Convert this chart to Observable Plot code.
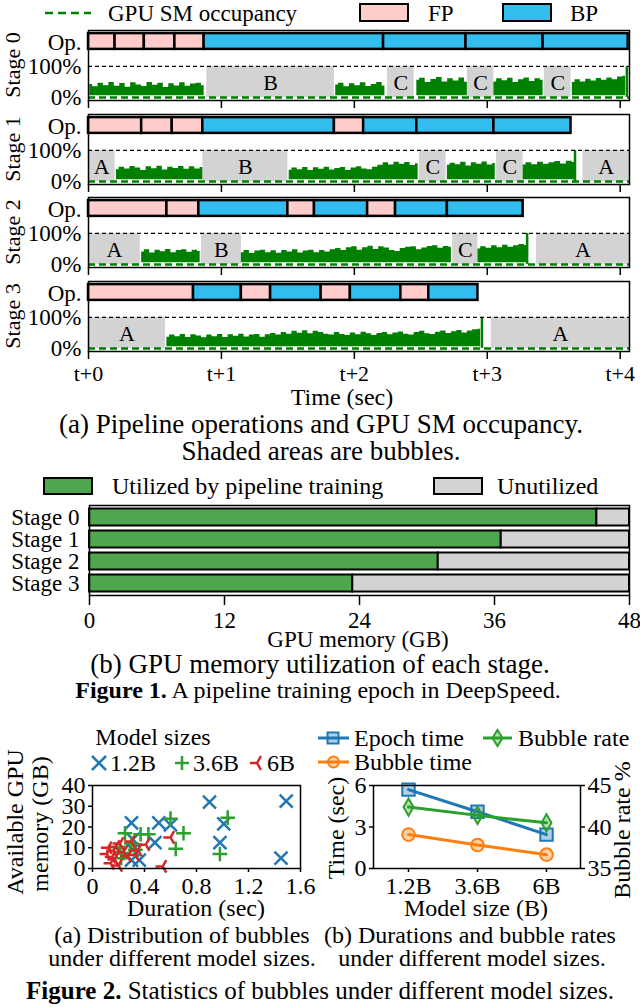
<!DOCTYPE html>
<html><head><meta charset="utf-8">
<script src="https://cdn.jsdelivr.net/npm/d3@7"></script>
<script src="https://cdn.jsdelivr.net/npm/@observablehq/plot@0.6"></script>
<style>
html,body{margin:0;padding:0;background:#fff;}
#page{position:relative;width:640px;height:1007px;overflow:hidden;font-family:"Liberation Serif","Times New Roman",serif;color:#000;}
.abs{position:absolute;}
.tx{position:absolute;white-space:nowrap;line-height:1;}
.sw{position:absolute;box-sizing:border-box;border:2px solid #000;}
</style></head>
<body><div id="page"></div>
<script>
// ================= DATA =================
// ---- Figure 1(a): pipeline operations & SM occupancy ----
const stageNames = ["Stage 0", "Stage 1", "Stage 2", "Stage 3"];
const timeTicks = [0, 1, 2, 3, 4];
const timeMax = 4.07;
const opBounds = [
  [0, 0.20, 0.42, 0.65, 0.87, 2.22, 2.84, 3.42, 4.06],
  [0, 0.40, 0.63, 0.86, 1.85, 2.07, 2.47, 3.05, 3.63],
  [0, 0.59, 0.83, 1.50, 1.70, 2.10, 2.31, 2.70, 3.27],
  [0, 0.79, 1.15, 1.37, 1.75, 1.97, 2.35, 2.56, 2.93]
];
const opTypes = [
  ["FP", "FP", "FP", "FP", "BP", "BP", "BP", "BP"],
  ["FP", "FP", "FP", "BP", "FP", "BP", "BP", "BP"],
  ["FP", "FP", "BP", "FP", "BP", "FP", "BP", "BP"],
  ["FP", "BP", "FP", "BP", "FP", "BP", "FP", "BP"]
];
const bubbleLabels = [["B", "C", "C", "C"], ["A", "B", "C", "C", "A"], ["A", "B", "C", "A"], ["A", "A"]];
const bubbleStart = [[0.89, 2.25, 2.85, 3.43], [0, 0.86, 2.49, 3.07, 3.72], [0, 0.85, 2.74, 3.37], [0, 3.03]];
const bubbleEnd = [[1.85, 2.45, 3.05, 3.63], [0.20, 1.50, 2.69, 3.27, 4.07], [0.39, 1.15, 2.93, 4.07], [0.58, 4.07]];
const occSegStart = [[0.01, 1.86, 2.47, 3.05, 3.64], [0.21, 1.51, 2.70, 3.27], [0.40, 1.15, 2.93], [0.59]];
const occSegEnd = [[0.87, 2.23, 2.85, 3.42, 4.04], [0.86, 2.48, 3.06, 3.66], [0.84, 2.73, 3.30], [2.95]];
const occTop = [
  [
    [42, 34, 46, 38, 48, 36, 45, 33, 47, 40, 35, 48, 39, 46, 32, 44, 37, 47, 36, 43, 46, 38],
    [40, 46, 34, 44, 38, 47, 35, 42, 48, 37],
    [55, 62, 48, 58, 64, 50, 60, 53, 63, 49],
    [50, 60, 54, 62, 48, 57, 63, 51, 60, 55],
    [48, 57, 50, 59, 53, 61, 55, 63, 57, 66, 68]
  ],
  [
    [38, 46, 40, 48, 43, 35, 47, 41, 49, 37, 46, 42, 48, 39, 47, 40, 45],
    [36, 43, 38, 45, 35, 44, 39, 46, 37, 42, 45, 35, 43, 47, 40, 38, 46, 52, 60, 53, 62, 55, 61, 51, 57],
    [52, 59, 54, 62, 50, 60, 55, 63, 53, 58],
    [53, 60, 54, 62, 55, 60, 64, 56, 65, 61]
  ],
  [
    [40, 47, 37, 46, 41, 48, 38, 45, 47, 39, 46, 42],
    [38, 45, 35, 43, 46, 38, 44, 36, 45, 40, 47, 37, 43, 46, 38, 45, 40, 47, 51, 45, 54, 57, 46, 54, 59, 48, 57, 53, 45, 42, 51, 55, 57, 47, 53, 58, 60, 52, 58, 55],
    [50, 57, 52, 60, 54, 62, 55, 60, 64, 61]
  ],
  [
    [36, 43, 38, 45, 35, 44, 40, 34, 43, 38, 45, 35, 44, 39, 46, 37, 43, 45, 36, 44, 48, 43, 51, 46, 55, 49, 57, 47, 55, 51, 46, 43, 51, 45, 42, 50, 44, 52, 47, 42, 48, 51, 44, 50, 53, 46, 43, 51, 55, 47, 45, 52, 56, 48, 54, 58, 50, 56, 60, 62]
  ]
];
const spikeTime = [[4.05], [3.66], [3.30], [2.96]];
const spikeLevel = [[100], [100], [100], [100]];
const occBase = 5;

// ---- Figure 1(b): GPU memory ----
const memStages = ["Stage 0", "Stage 1", "Stage 2", "Stage 3"];
const memUsed = [45.1, 36.6, 31.0, 23.4];
const memTotal = 48;
const memTicks = [0, 12, 24, 36, 48];

// ---- Figure 2(a): bubbles distribution ----
const dur12 = [0.30, 0.51, 0.60, 0.48, 0.31, 0.31, 0.30, 0.36, 0.90, 1.49, 1.01, 0.98, 1.45];
const mem12 = [22, 22, 21, 12.5, 14, 9, 4, 4, 32, 32.5, 21.5, 12.5, 5];
const dur36 = [1.04, 0.98, 0.60, 0.70, 0.64, 0.25, 0.37, 0.43, 0.24, 0.33, 0.22, 0.30, 0.21];
const mem36 = [24.5, 7, 24, 17, 9.5, 17, 16.5, 16.5, 7.5, 9, 5, 12, 10];
const dur6 = [0.60, 0.54, 0.41, 0.35, 0.16, 0.11, 0.14, 0.18, 0.21, 0.17, 0.27, 0.30, 0.12, 0.20, 0.24, 0.15, 0.33];
const mem6 = [15, 1, 11.5, 9, 8.5, 7, 2.5, 10.5, 12, 4.5, 6, 13, 10, 1.5, 8, 5.5, 6.5];
const durTicks = [0, 0.4, 0.8, 1.2, 1.6];
const memTicks2 = [0, 10, 20, 30, 40];

// ---- Figure 2(b): durations and bubble rates ----
const modelSizes = ["1.2B", "3.6B", "6B"];
const epochTime = [5.7, 4.1, 2.45];
const bubbleTime = [2.45, 1.7, 1.0];
const bubbleRate = [42.4, 41.4, 40.5];
const timeTicks2 = [0, 3, 6];
const rateTicks = [35, 40, 45];

// ================= STYLE =================
const FONT = "'Liberation Serif','Times New Roman',serif";
const GREEN = "#008000";
const FPC = "#ffcccc", BPC = "#33bdef";
const GRAY = "#d3d3d3";
const MEMG = "#4ea64e";
const C_BLUE = "#1f77b4", C_ORANGE = "#ff7f0e", C_GREEN = "#2ca02c", C_RED = "#d62728";

const page = document.getElementById("page");
function place(el, left, top) {
  el.style.position = "absolute"; el.style.left = left + "px"; el.style.top = top + "px";
  page.appendChild(el); return el;
}
function text(str, x, y, o = {}) {
  const d = document.createElement("div");
  d.className = "tx";
  d.style.fontSize = (o.size || 23) + "px";
  d.style.left = x + "px"; d.style.top = y + "px";
  const tx = o.anchor === "start" ? "0" : o.anchor === "end" ? "-100%" : "-50%";
  d.style.transform = `translate(${tx},-50%)` + (o.rotate ? ` rotate(${o.rotate}deg)` : "");
  if (o.html) d.innerHTML = str; else d.textContent = str;
  page.appendChild(d); return d;
}
function swatch(x, y, w, h, fill) {
  const d = document.createElement("div"); d.className = "sw";
  Object.assign(d.style, {left: x + "px", top: y + "px", width: w + "px", height: h + "px", background: fill});
  page.appendChild(d);
}
function svgIcon(x, y, w, h, inner) {
  const ns = "http://www.w3.org/2000/svg";
  const s = document.createElementNS(ns, "svg");
  s.setAttribute("width", w); s.setAttribute("height", h);
  s.style.position = "absolute"; s.style.left = x + "px"; s.style.top = y + "px"; s.style.overflow = "visible";
  s.innerHTML = inner; page.appendChild(s);
}

// ================= FIGURE 1(a) =================
const F1_TOP = 30, F1_H = 70, F1_STEP = 83.7;
function stagePlot(i) {
  const last = i === stageNames.length - 1;
  const ops = opTypes[i].map((t, j) => ({x1: opBounds[i][j], x2: opBounds[i][j + 1], type: t}));
  const bub = bubbleLabels[i].map((l, j) => ({label: l, x1: bubbleStart[i][j], x2: bubbleEnd[i][j]}));
  const occ = [];
  occTop[i].forEach((vals, s) => {
    const a = occSegStart[i][s], b = occSegEnd[i][s];
    vals.forEach((v, k) => occ.push({seg: s, t: a + (b - a) * k / (vals.length - 1), v}));
  });
  const spikes = spikeTime[i].map((t, j) => ({t, v: spikeLevel[i][j]}));
  const mb = last ? 34 : 10;
  return Plot.plot({
    width: 640, height: F1_H + 2 + mb,
    marginLeft: 88, marginRight: 11, marginTop: 2, marginBottom: mb,
    style: {fontFamily: FONT, fontSize: "23px", background: "transparent", color: "#000", overflow: "visible"},
    x: {domain: [0, timeMax]},
    y: {domain: [-10, 216]},
    marks: [
      Plot.rect(bub, {x1: "x1", x2: "x2", y1: 0, y2: 100, fill: GRAY}),
      Plot.text(bub, {x: d => (d.x1 + d.x2) / 2, y: 48, text: "label", fontSize: 22}),
      Plot.areaY(occ, {x: "t", y1: occBase, y2: "v", z: "seg", fill: GREEN, curve: "step"}),
      Plot.ruleX(spikes, {x: "t", y1: 0, y2: "v", stroke: GREEN, strokeWidth: 2.5}),
      Plot.ruleY([0], {stroke: GREEN, strokeWidth: 2.5, strokeDasharray: "7,4"}),
      Plot.ruleY([100], {stroke: "#000", strokeWidth: 1.2, strokeDasharray: "4,3"}),
      Plot.rect(ops, {x1: "x1", x2: "x2", y1: 155, y2: 206, fill: d => d.type === "FP" ? FPC : BPC, stroke: "#000", strokeWidth: 2.5}),
      Plot.frame({stroke: "#000", strokeWidth: 1.5}),
      Plot.axisY({ticks: [0, 100, 178], tickFormat: v => v === 0 ? "0%" : v === 100 ? "100%" : "Op.", tickSize: 0, tickPadding: 7, label: null, fontSize: 23}),
      Plot.axisX({ticks: timeTicks, tickFormat: last ? (v => "t+" + v) : (() => ""), tickSize: 8, tickPadding: 6, strokeWidth: 1.5, label: null, fontSize: 22})
    ]
  });
}
stageNames.forEach((s, i) => {
  place(stagePlot(i), 0, F1_TOP + i * F1_STEP - 2);
  text(s, 13, F1_TOP + i * F1_STEP + F1_H / 2, {rotate: -90, size: 22});
});

// legend (top)
svgIcon(45, 10, 46, 6, `<line x1="0" y1="3" x2="46" y2="3" stroke="${GREEN}" stroke-width="2.5" stroke-dasharray="8,5"/>`);
text("GPU SM occupancy", 108, 12.5, {anchor: "start"});
swatch(359, 3, 50, 19, FPC);
text("FP", 428, 12.5, {anchor: "start"});
swatch(502, 3, 50, 19, BPC);
text("BP", 570, 12.5, {anchor: "start"});

text("Time (sec)", 342, 397, {size: 24});
text("(a) Pipeline operations and GPU SM occupancy.", 321, 424, {size: 27});
text("Shaded areas are bubbles.", 321, 451, {size: 27});

// ================= FIGURE 1(b) =================
const memData = memStages.map((s, i) => ({stage: s, used: memUsed[i], total: memTotal}));
place(Plot.plot({
  width: 640, height: 90 + 2 + 34,
  marginLeft: 89, marginRight: 11, marginTop: 2, marginBottom: 34,
  style: {fontFamily: FONT, fontSize: "23px", background: "transparent", color: "#000", overflow: "visible"},
  x: {domain: [0, memTotal]},
  y: {domain: memStages, padding: 0},
  marks: [
    Plot.barX(memData, {x1: 0, x2: "used", y: "stage", fill: MEMG, stroke: "#000", strokeWidth: 2, insetTop: 2.5, insetBottom: 2.5}),
    Plot.barX(memData, {x1: "used", x2: "total", y: "stage", fill: GRAY, stroke: "#000", strokeWidth: 2, insetTop: 2.5, insetBottom: 2.5}),
    Plot.frame({stroke: "#000", strokeWidth: 1.5}),
    Plot.axisY({tickSize: 0, tickPadding: 10, label: null, fontSize: 23}),
    Plot.axisX({ticks: memTicks, tickSize: 10, tickPadding: 6, strokeWidth: 1.5, label: null, fontSize: 23})
  ]
}), 0, 503);

swatch(43, 477, 50, 18, MEMG);
text("Utilized by pipeline training", 112, 486, {anchor: "start", size: 24});
swatch(433, 477, 50, 18, GRAY);
text("Unutilized", 497, 486, {anchor: "start", size: 24});
text("GPU memory (GB)", 358, 639, {size: 23});
text("(b) GPU memory utilization of each stage.", 320, 664, {size: 27});
text("<b>Figure 1.</b> A pipeline training epoch in DeepSpeed.", 318, 690, {html: true, size: 24});

// ================= FIGURE 2(a) =================
const triLeft = {
  draw(ctx, size) {
    const L = Math.sqrt(size / Math.PI) * 1.2;
    ctx.moveTo(0, 0); ctx.lineTo(-L, 0);
    ctx.moveTo(0, 0); ctx.lineTo(L * 0.5, -L * 0.866);
    ctx.moveTo(0, 0); ctx.lineTo(L * 0.5, L * 0.866);
  }
};
const s12 = dur12.map((d, i) => ({d, m: mem12[i]}));
const s36 = dur36.map((d, i) => ({d, m: mem36[i]}));
const s6 = dur6.map((d, i) => ({d, m: mem6[i]}));
place(Plot.plot({
  width: 320, height: 83 + 5 + 32,
  marginLeft: 92, marginRight: 20, marginTop: 5, marginBottom: 32,
  style: {fontFamily: FONT, fontSize: "24px", background: "transparent", color: "#000", overflow: "visible"},
  x: {domain: [0, 1.6]},
  y: {domain: [0, 40]},
  marks: [
    Plot.dot(s12, {x: "d", y: "m", symbol: "times", r: 6, stroke: C_BLUE, strokeWidth: 2.5}),
    Plot.dot(s36, {x: "d", y: "m", symbol: "plus", r: 4.8, stroke: C_GREEN, strokeWidth: 2.5}),
    Plot.dot(s6, {x: "d", y: "m", symbol: triLeft, r: 6, stroke: C_RED, fill: "none", strokeWidth: 2.5}),
    Plot.frame({stroke: "#000", strokeWidth: 1.5}),
    Plot.axisX({ticks: durTicks, tickFormat: d => d === 0 ? "0" : d.toFixed(1), tickSize: 4, tickPadding: 4, strokeWidth: 1.5, label: null, fontSize: 24}),
    Plot.axisY({ticks: memTicks2, tickFormat: d => String(d), tickSize: 4, tickPadding: 3, strokeWidth: 1.5, label: null, fontSize: 24})
  ]
}), 0, 780);

text("Model sizes", 153, 737, {size: 24});
svgIcon(92, 756, 14, 14, `<path d="M0,0L14,14M0,14L14,0" stroke="${C_BLUE}" stroke-width="2.5"/>`);
text("1.2B", 110, 763, {anchor: "start", size: 24});
svgIcon(175, 756, 14, 14, `<path d="M7,0V14M0,7H14" stroke="${C_GREEN}" stroke-width="2.5"/>`);
text("3.6B", 193, 763, {anchor: "start", size: 24});
svgIcon(250, 756, 14, 14, `<path d="M7,7H0M7,7L11,0M7,7L11,14" stroke="${C_RED}" stroke-width="2.5" fill="none"/>`);
text("6B", 267, 763, {anchor: "start", size: 24});
text("Available GPU", 15, 822, {size: 24, rotate: -90});
text("memory (GB)", 40, 824, {size: 24, rotate: -90});
text("Duration (sec)", 196, 908, {size: 24});

// ================= FIGURE 2(b) =================
const rateToY = r => (r - 35) * 0.6;
const lineData = modelSizes.map((s, i) => ({s, epoch: epochTime[i], bub: bubbleTime[i], rate: rateToY(bubbleRate[i])}));
place(Plot.plot({
  width: 320, height: 83 + 5 + 32,
  marginLeft: 53, marginRight: 60, marginTop: 5, marginBottom: 32,
  style: {fontFamily: FONT, fontSize: "24px", background: "transparent", color: "#000", overflow: "visible"},
  x: {type: "point", domain: modelSizes, padding: 0.5},
  y: {domain: [0, 6]},
  marks: [
    Plot.line(lineData, {x: "s", y: "epoch", stroke: C_BLUE, strokeWidth: 3}),
    Plot.dot(lineData, {x: "s", y: "epoch", symbol: "square", r: 7, stroke: C_BLUE, fill: C_BLUE, fillOpacity: 0.35, strokeWidth: 2}),
    Plot.line(lineData, {x: "s", y: "rate", stroke: C_GREEN, strokeWidth: 3}),
    Plot.dot(lineData, {x: "s", y: "rate", symbol: "diamond", r: 5.2, stroke: C_GREEN, fill: C_GREEN, fillOpacity: 0.35, strokeWidth: 2}),
    Plot.line(lineData, {x: "s", y: "bub", stroke: C_ORANGE, strokeWidth: 3}),
    Plot.dot(lineData, {x: "s", y: "bub", symbol: "circle", r: 6.3, stroke: C_ORANGE, fill: C_ORANGE, fillOpacity: 0.35, strokeWidth: 2}),
    Plot.frame({stroke: "#000", strokeWidth: 1.5}),
    Plot.axisX({tickSize: 4, tickPadding: 4, strokeWidth: 1.5, label: null, fontSize: 24}),
    Plot.axisY({ticks: timeTicks2, tickFormat: d => String(d), tickSize: 4, tickPadding: 3, strokeWidth: 1.5, label: null, fontSize: 24}),
    Plot.axisY({anchor: "right", ticks: rateTicks.map(rateToY), tickFormat: y => String(Math.round(35 + y / 0.6)), tickSize: 4, tickPadding: 3, strokeWidth: 1.5, label: null, fontSize: 24})
  ]
}), 320, 780);

svgIcon(318, 732, 31, 12, `<line x1="0" y1="6" x2="31" y2="6" stroke="${C_BLUE}" stroke-width="3"/><rect x="9.5" y="0.5" width="11" height="11" fill="${C_BLUE}" fill-opacity="0.35" stroke="${C_BLUE}" stroke-width="2"/>`);
text("Epoch time", 354, 738, {anchor: "start", size: 24});
svgIcon(483, 729, 29, 18, `<line x1="0" y1="9" x2="29" y2="9" stroke="${C_GREEN}" stroke-width="3"/><path d="M14.5,1L19.5,9L14.5,17L9.5,9Z" fill="${C_GREEN}" fill-opacity="0.35" stroke="${C_GREEN}" stroke-width="2"/>`);
text("Bubble rate", 518, 738, {anchor: "start", size: 24});
svgIcon(318, 756, 31, 12, `<line x1="0" y1="6" x2="31" y2="6" stroke="${C_ORANGE}" stroke-width="3"/><circle cx="15.5" cy="6" r="5.5" fill="${C_ORANGE}" fill-opacity="0.35" stroke="${C_ORANGE}" stroke-width="2"/>`);
text("Bubble time", 354, 762, {anchor: "start", size: 24});
text("Time (sec)", 336, 828, {size: 24, rotate: -90});
text("Bubble rate %", 622, 830, {size: 24, rotate: -90});
text("Model size (B)", 476, 908, {size: 24});

text("(a) Distribution of bubbles", 182, 935, {size: 24});
text("under different model sizes.", 182, 958, {size: 24});
text("(b) Durations and bubble rates", 470, 935, {size: 24});
text("under different model sizes.", 472, 958, {size: 24});
text("<b>Figure 2.</b> Statistics of bubbles under different model sizes.", 320, 990, {html: true, size: 25});
</script>
</body></html>
